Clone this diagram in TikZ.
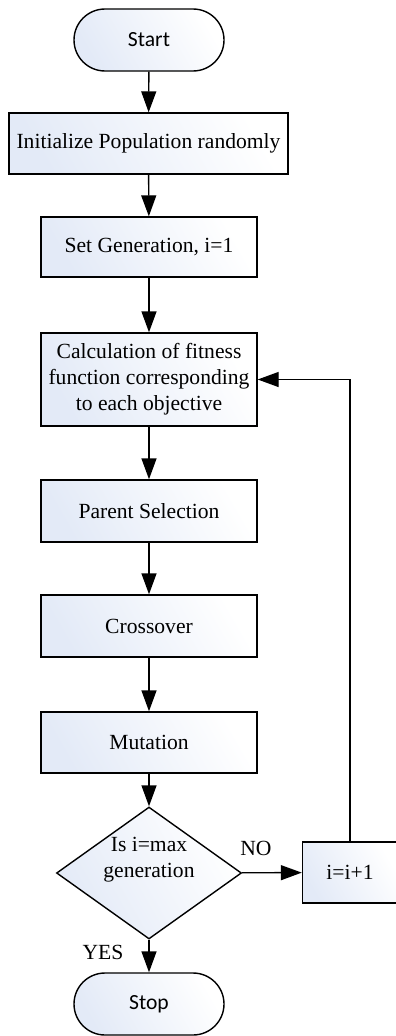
\documentclass[tikz,border=0pt]{standalone}
\usepackage{fontspec}
\setmainfont{Liberation Serif}
\newfontfamily\termfont{Carlito}
\usetikzlibrary{shapes.misc,shapes.geometric,arrows.meta}
\definecolor{shadeblue}{HTML}{E3EAF7}
\tikzset{
  base/.style={draw=black, line width=1.4pt, left color=shadeblue, right color=white, shading angle=120,
    inner sep=2pt, align=center, font=\fontsize{21.6}{26}\selectfont},
  term/.style={base, rounded rectangle, minimum width=154pt, minimum height=62pt, font=\termfont\fontsize{21.6}{26}\selectfont},
  proc/.style={base, rectangle, minimum width=216pt, minimum height=61pt},
  dec/.style={base, diamond, minimum width=185pt, minimum height=132pt, inner sep=0pt, aspect=1.4},
  arr/.style={draw=black, line width=1.4pt, -{Triangle[length=21pt,width=15pt]}},
  lbl/.style={font=\fontsize{21.6}{26}\selectfont, inner sep=0pt}
}
\begin{document}
\begin{tikzpicture}[x=1pt,y=-1pt]
\useasboundingbox (0,0) rectangle (396,1036);
\node[term] (start) at (149,40) {Start};
\node[proc, minimum width=279pt] (init) at (148.5,143.5) {Initialize Population randomly};
\node[proc, minimum height=60pt] (set) at (149,247) {Set Generation, i=1};
\node[proc, minimum height=93pt] (calc) at (149,379.5) {Calculation of fitness\\function corresponding\\to each objective};
\node[proc, minimum height=62pt] (par) at (149,511) {Parent Selection};
\node[proc, minimum height=62pt] (cross) at (149,626) {Crossover};
\node[proc] (mut) at (149,742.5) {Mutation};
\node[dec, label={[lbl, align=center, yshift=13pt]center:Is i=max\\generation}] (dec) at (149,873) {};
\node[proc, minimum width=95pt] (inc) at (350,872.5) {i=i+1};
\node[term] (stop) at (149,1004) {Stop};
\node[lbl] (no) at (256,848) {NO};
\node[lbl] (yes) at (103,952) {YES};
\draw[arr] (start) -- (init);
\draw[arr] (init) -- (set);
\draw[arr] (set) -- (calc);
\draw[arr] (calc) -- (par);
\draw[arr] (par) -- (cross);
\draw[arr] (cross) -- (mut);
\draw[arr] (mut) -- (dec);
\draw[arr] (dec) -- (inc);
\draw[arr] (dec) -- (stop);
\draw[arr] (inc.north) |- (calc.east);
\end{tikzpicture}
\end{document}
